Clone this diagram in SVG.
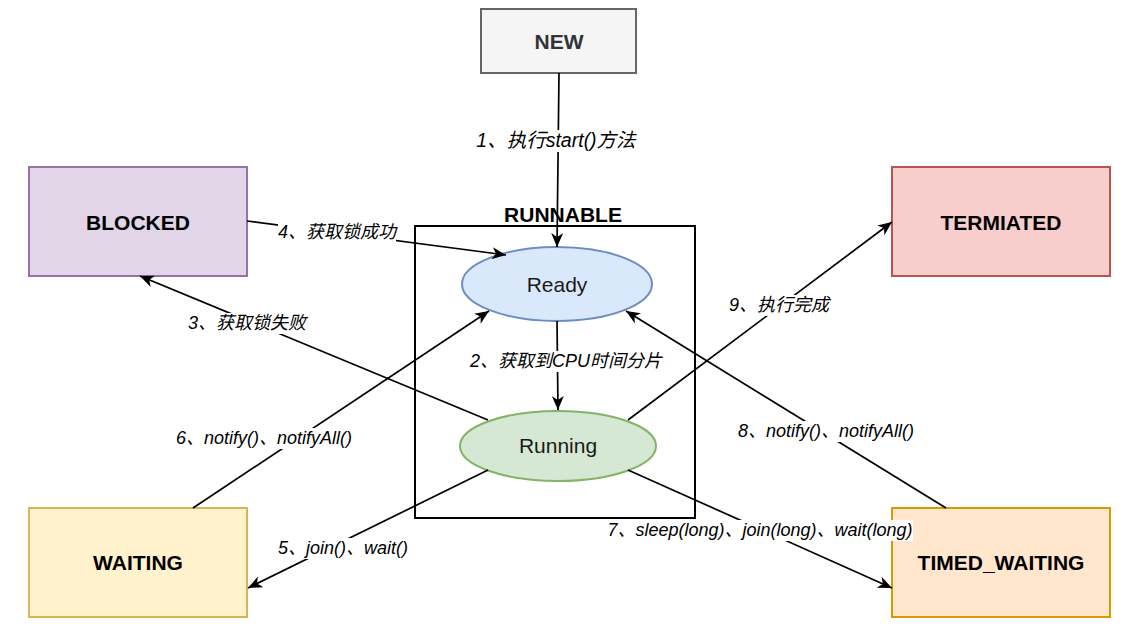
<svg xmlns="http://www.w3.org/2000/svg" width="1132" height="640" viewBox="0 0 1132 640">
<style>
.node{stroke-width:2}
.nl{font-family:"Liberation Sans","Noto Sans CJK SC",sans-serif;font-size:21px;font-weight:bold;text-anchor:middle;fill:#000}
.el{font-family:"Liberation Sans","Noto Sans CJK SC",sans-serif;font-size:21px;text-anchor:middle;fill:#1a1a1a}
.edge{fill:none;stroke:#000;stroke-width:1.7}
.lbl{font-family:"Liberation Sans","Noto Sans CJK SC",sans-serif;font-size:18px;font-style:italic;text-anchor:middle;fill:#000}
.bg{fill:#fff}
</style>
<defs>
<marker id="arr" markerUnits="userSpaceOnUse" markerWidth="16" markerHeight="12" refX="14" refY="6" orient="auto">
<path d="M14,6 L0,0 L4,6 L0,12 Z" fill="#000"/>
</marker>
</defs>
<rect width="1132" height="640" fill="#fff"/>
<g id="runnable">
<rect x="415" y="226" width="280" height="292" fill="none" stroke="#000" stroke-width="2"/>
<text class="nl" x="563" y="222">RUNNABLE</text>
</g>
<g id="new">
<rect class="node" x="481" y="9" width="155" height="64" fill="#f5f5f5" stroke="#666666"/>
<text class="nl" x="559" y="49" style="fill:#333">NEW</text>
</g>
<g id="blocked">
<rect class="node" x="29" y="167" width="218" height="109" fill="#e1d5e7" stroke="#9673a6"/>
<text class="nl" x="138" y="230">BLOCKED</text>
</g>
<g id="termiated">
<rect class="node" x="892" y="167" width="218" height="109" fill="#f8cecc" stroke="#b85450"/>
<text class="nl" x="1001" y="230">TERMIATED</text>
</g>
<g id="waiting">
<rect class="node" x="29" y="508" width="218" height="109" fill="#fff2cc" stroke="#d6b656"/>
<text class="nl" x="138" y="570">WAITING</text>
</g>
<g id="timed_waiting">
<rect class="node" x="892" y="508" width="218" height="109" fill="#ffe6cc" stroke="#d79b00"/>
<text class="nl" x="1001" y="570">TIMED_WAITING</text>
</g>
<g id="ready">
<ellipse cx="557" cy="284" rx="95" ry="37" fill="#dae8fc" stroke="#6c8ebf" stroke-width="2"/>
<text class="el" x="557" y="292">Ready</text>
</g>
<g id="running">
<ellipse cx="558" cy="446" rx="98" ry="35" fill="#d5e8d4" stroke="#82b366" stroke-width="2"/>
<text class="el" x="558" y="453">Running</text>
</g>
<g id="connectors">
<line class="edge" x1="559" y1="73" x2="557" y2="247" marker-end="url(#arr)"/>
<line class="edge" x1="557" y1="321" x2="558" y2="410" marker-end="url(#arr)"/>
<line class="edge" x1="488" y1="420" x2="140" y2="276" marker-end="url(#arr)"/>
<line class="edge" x1="247" y1="221" x2="506" y2="255" marker-end="url(#arr)"/>
<line class="edge" x1="488" y1="470" x2="248" y2="588" marker-end="url(#arr)"/>
<line class="edge" x1="193" y1="508" x2="489" y2="311" marker-end="url(#arr)"/>
<line class="edge" x1="628" y1="470" x2="892" y2="588" marker-end="url(#arr)"/>
<line class="edge" x1="946" y1="508" x2="626" y2="311" marker-end="url(#arr)"/>
<line class="edge" x1="628" y1="420" x2="892" y2="222" marker-end="url(#arr)"/>
<g id="labels">
<rect class="bg" x="475" y="130" width="162" height="22"/>
<text class="lbl" x="556" y="147" style="font-size:19.5px">1、执行start()方法</text>
<rect class="bg" x="468" y="351" width="196" height="21"/>
<text class="lbl" x="566" y="367">2、获取到CPU时间分片</text>
<rect class="bg" x="188" y="313" width="119" height="21"/>
<text class="lbl" x="247" y="329">3、获取锁失败</text>
<rect class="bg" x="278" y="222" width="118" height="21"/>
<text class="lbl" x="337" y="238">4、获取锁成功</text>
<rect class="bg" x="279" y="538" width="129" height="21"/>
<text class="lbl" x="343" y="554">5、join()、wait()</text>
<rect class="bg" x="177" y="428" width="175" height="21"/>
<text class="lbl" x="264" y="444">6、notify()、notifyAll()</text>
<rect class="bg" x="607" y="520" width="306" height="21"/>
<text class="lbl" x="760" y="536">7、sleep(long)、join(long)、wait(long)</text>
<rect class="bg" x="738" y="421" width="175" height="21"/>
<text class="lbl" x="826" y="437">8、notify()、notifyAll()</text>
<rect class="bg" x="729" y="295" width="100" height="21"/>
<text class="lbl" x="779" y="311">9、执行完成</text>
</g>
</g>
</svg>
